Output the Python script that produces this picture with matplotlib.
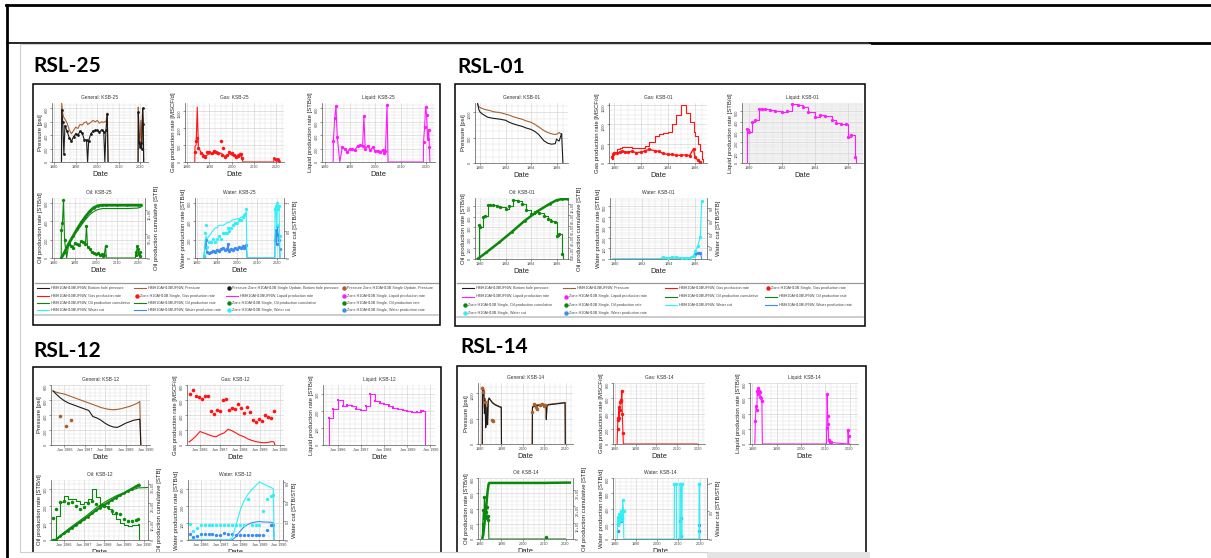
import numpy as np
import matplotlib
matplotlib.use("Agg")
import matplotlib.pyplot as plt
from matplotlib.lines import Line2D
from matplotlib.patches import Rectangle
from matplotlib.ticker import AutoMinorLocator

plt.rcParams['font.family'] = ['Liberation Sans', 'DejaVu Sans']

nan = np.nan

# ---------------- KSB-25 ----------------
k25_t = [1983.4, 1983.5, 1984, 1984.5, 1985, 1986, 1987, 1988, 1989, 1990, 1991, 1992, 1993, 1994,
         1995, 1995.5, 1996, 1997, 1998, 1999, 2000, 2001, 2002, 2003, 2003.5, 2004, 2004.6, 2005]
k25_pres = [0, 880, 720, 660, 640, 580, 480, 420, 470, 520, 500, 560, 550, 590,
            600, 560, 570, 590, 620, 600, 620, 580, 600, 590, 600, 600, 730, 0]
k25_bhp = [0, 780, 600, 120, 540, 460, 360, 310, 380, 420, 400, 460, 430, 330,
           330, 0, 320, 420, 460, 470, 470, 450, 480, 450, 0, 470, 720, 0]
k25_gas = [0, 450, 500, 1600, 450, 300, 230, 180, 200, 250, 220, 260, 250, 210,
           260, 250, 200, 170, 190, 250, 200, 170, 160, 220, 150, 200, 130, 0]
k25_gas_obs = [nan, 300, 600, 700, 400, 250, 180, 150, 280, 300, 250, 320, 280, 250,
               600, 200, 420, 150, 200, 300, 250, 200, 150, 180, 230, 240, 130, nan]
k25_liq = [0, 320, 650, 830, 380, 0, 220, 190, 150, 200, 190, 180, 240, 250,
           240, 690, 200, 240, 180, 220, 160, 170, 150, 180, 140, 170, 850, 0]
k25_oil = [0, 300, 380, 630, 200, 0, 150, 130, 110, 160, 150, 140, 180, 170,
           150, 350, 120, 100, 60, 50, 40, 50, 30, 40, 20, 30, 130, 0]
k25_wc = [0, 0.05, 0.45, 0.6, 0.2, 0.3, 0.3, 0.35, 0.3, 0.35, 0.4, 0.35, 0.45, 0.45,
          0.45, 0.55, 0.5, 0.55, 0.6, 0.65, 0.65, 0.7, 0.7, 0.75, 0.78, 0.8, 0.9, 0]
k25_wc_sim = [0, 0, 0.3, 0.4, 0.35, 0.4, 0.45, 0.5, 0.55, 0.55, 0.6, 0.6, 0.6, 0.62,
              0.65, 0.65, 0.65, 0.68, 0.7, 0.7, 0.72, 0.72, 0.75, 0.75, 0.78, 0.8, 0.85, 0]
k25_wat = [0, 20, 120, 200, 60, 50, 60, 80, 70, 90, 80, 100, 110, 90,
           100, 150, 80, 100, 90, 110, 100, 120, 110, 130, 110, 120, 140, 0]

k25_t2 = [2018.9, 2019.0, 2019.4, 2019.8, 2020.2, 2020.6, 2021.0, 2021.3, 2021.5]
k25_pres2 = [0, 820, 420, 300, 620, 260, 780, 640, 0]
k25_bhp2 = [0, 740, 300, 220, 280, 200, 800, 560, 0]
k25_gas2 = [0, 120, 80, 60, 100, 50, 80, 40, 0]
k25_liq2 = [0, 300, 520, 820, 700, 350, 480, 220, 0]
k25_oil2 = [0, 30, 60, 130, 100, 40, 60, 20, 0]
k25_wc2 = [0, 0.9, 0.95, 0.6, 1.0, 0.9, 0.95, 0.4, 0]
k25_wat2 = [0, 200, 300, 150, 350, 250, 200, 100, 0]

k25_cum_t = [1983.5, 1985, 1987, 1989, 1991, 1993, 1995, 1997, 1999, 2001, 2003, 2005,
             2010, 2015, 2020, 2021.5]
k25_cum_obs = [0, 0.12e6, 0.3e6, 0.45e6, 0.6e6, 0.74e6, 0.86e6, 0.97e6, 1.05e6, 1.09e6,
               1.1e6, 1.1e6, 1.1e6, 1.1e6, 1.1e6, 1.1e6]
k25_cum_sim = [0, 0.13e6, 0.3e6, 0.43e6, 0.56e6, 0.68e6, 0.8e6, 0.9e6, 0.97e6, 1.01e6,
               1.03e6, 1.03e6, 1.03e6, 1.03e6, 1.04e6, 1.06e6]

# ---------------- KSB-01 ----------------
k01_t = [1979.8, 1979.9, 1980.0, 1980.2, 1980.4, 1980.6, 1980.8, 1981.0, 1981.3, 1981.6,
         1982.0, 1982.3, 1982.6, 1983.0, 1983.3, 1983.6, 1984.0, 1984.3, 1984.6, 1985.0,
         1985.3, 1985.6, 1985.9, 1986.0, 1986.2, 1986.4, 1986.5, 1986.6]
k01_pres = [1150, 1110, 1090, 1070, 1050, 1040, 1030, 1010, 1000, 990,
            960, 940, 910, 880, 860, 830, 800, 760, 710, 640,
            600, 575, 560, 565, 600, 560, nan, nan]
k01_bhp = [1180, 1050, 1000, 960, 930, 900, 890, 880, 870, 860,
           840, 800, 770, 740, 720, 690, 660, 620, 560, 440,
           390, 370, 380, 470, 430, 580, 0, nan]
k01_gas = [100, 200, 280, 350, 400, 420, 420, 410, 400, 390,
           380, 450, 550, 700, 760, 780, 800, 1000, 1250, 1500,
           1300, 1050, 800, 700, 500, 300, 100, 0]
k01_gas_obs = [150, 220, 260, 250, 280, 300, 290, 280, 300, 270,
               280, 320, 350, 320, 300, 250, 220, 220, 200, 200,
               210, 190, 370, 150, 80, 20, nan, nan]
k01_liq = [0, 330, 300, 400, 420, 520, 520, 520, 510, 500,
           490, 500, 570, 560, 540, 490, 440, 460, 450, 420,
           390, 380, 380, 250, 270, 60, 0, 0]
k01_oil = [0, 320, 300, 400, 410, 510, 510, 510, 500, 490,
           480, 500, 560, 550, 520, 470, 430, 450, 440, 410,
           380, 360, 350, 220, 240, 50, 0, 0]
k01_wc = [0, 0, 0, 0, 0, 0, 0, 0, 0, 0,
          0, 0, 0, 0, 0, 0.03, 0.02, 0.03, 0.03, 0.02,
          0.02, 0.02, 0.05, 0.12, 0.2, 0.35, 0.9, nan]
k01_wat = [0, 0, 0, 0, 0, 0, 0, 0, 0, 0,
           0, 0, 0, 0, 0, 0, 0, 0, 0, 0,
           0, 0, 30, 50, 60, 60, 0, nan]
k01_cum_t = [1979.8, 1980.5, 1981.5, 1982.5, 1983.5, 1984.5, 1985.5, 1986.0, 1986.4, 1986.9]
k01_cum = [0, 0.12e6, 0.3e6, 0.49e6, 0.69e6, 0.86e6, 1.0e6, 1.06e6, 1.08e6, 1.08e6]

# ---------------- KSB-12 ----------------
k12_t = [1985.45, 1985.6, 1985.8, 1986.0, 1986.2, 1986.4, 1986.6, 1986.8, 1987.0, 1987.2,
         1987.4, 1987.6, 1987.8, 1988.0, 1988.2, 1988.4, 1988.6, 1988.8, 1989.0, 1989.2,
         1989.4, 1989.6, 1989.7, 1989.75]
k12_pres = [720, 705, 690, 680, 660, 640, 620, 600, 580, 560,
            540, 520, 500, 485, 475, 470, 475, 485, 500, 515,
            535, 560, 580, 0]
k12_bhp = [720, 680, 630, 590, 560, 540, 520, 500, 480, 460,
           380, 360, 330, 290, 260, 240, 235, 260, 290, 310,
           330, 340, 345, 0]
k12_pdot_t = [1985.8, 1986.1, 1986.35]
k12_pdot = [390, 260, 330]
k12_gas = [40, 70, 120, 180, 160, 140, 120, 110, 140, 160,
           210, 190, 160, 130, 110, 80, 60, 45, 35, 30,
           35, 45, 40, 0]
k12_gobs_t = [1985.5, 1985.65, 1985.8, 1985.95, 1986.1, 1986.25, 1986.4, 1986.55, 1986.7, 1986.85,
              1987.0, 1987.15, 1987.3, 1987.45, 1987.6, 1987.75, 1987.9, 1988.05, 1988.2, 1988.35,
              1988.5, 1988.65, 1988.8, 1988.95, 1989.1, 1989.25, 1989.4, 1989.55, 1989.7]
k12_gobs = [680, 740, 650, 640, 620, 650, 660, 450, 420, 470,
            450, 600, 610, 470, 490, 480, 550, 490, 430, 510,
            440, 330, 310, 350, 320, 400, 380, 360, 450]
k12_liq = [0, 160, 210, 260, 230, 235, 230, 210, 205, 225,
           300, 255, 245, 240, 225, 215, 210, 205, 200, 195,
           195, 200, 200, 0]
k12_oil_sim = [0, 140, 220, 255, 240, 240, 230, 210, 220, 240,
               300, 250, 210, 200, 180, 150, 120, 100, 85, 80,
               85, 90, 95, 0]
k12_oil_obs = [130, 180, 220, 230, 215, 220, 200, 180, 190, 215,
               230, 210, 200, 200, 195, 170, 160, 150, 120, 110,
               110, 115, 120, nan]
k12_cum_obs = [0, 0.01e5, 0.2e5, 0.35e5, 0.5e5, 0.65e5, 0.8e5, 0.95e5, 1.1e5, 1.25e5,
               1.42e5, 1.58e5, 1.72e5, 1.86e5, 2.0e5, 2.13e5, 2.26e5, 2.38e5, 2.5e5, 2.62e5,
               2.74e5, 2.86e5, 2.92e5, 2.95e5]
k12_cum_sim = [0, 0.02e5, 0.22e5, 0.4e5, 0.57e5, 0.73e5, 0.89e5, 1.04e5, 1.2e5, 1.36e5,
               1.54e5, 1.7e5, 1.85e5, 1.99e5, 2.12e5, 2.24e5, 2.35e5, 2.44e5, 2.52e5, 2.6e5,
               2.67e5, 2.74e5, 2.78e5, 2.78e5]
k12_wc_sim = [0, 0, 0, 0, 0, 0, 0, 0, 0, 0,
              0, 0.02, 0.15, 0.3, 0.4, 0.47, 0.52, 0.56, 0.6, 0.58,
              0.56, 0.54, 0.53, 0]
k12_wc_obs = [0.17, 0.09, 0.12, 0.15, 0.15, 0.16, 0.15, 0.15, 0.16, 0.16,
              0.15, 0.16, 0.16, 0.16, 0.15, 0.42, 0.16, 0.16, 0.16, 0.3,
              0.42, 0.45, 0.46, nan]
k12_wat_obs = [35, 20, 25, 35, 35, 35, 35, 30, 30, 40,
               35, 35, 30, 30, 30, 30, 30, 30, 30, 30,
               60, 85, 90, nan]
k12_wat_sim = [0, 0, 0, 0, 0, 0, 0, 0, 0, 0,
               0, 0, 20, 50, 75, 90, 100, 105, 108, 105,
               105, 103, 100, 0]

# ---------------- KSB-14 ----------------
k14_t = [1981.0, 1981.1, 1981.4, 1981.7, 1982.0, 1982.3, 1982.6, 1982.9, 1983.2, 1983.5,
         1983.8, 1984.2, 1985, 1986, 1987, 1988, 1989, 1989.9, 1990.0]
k14_bhp = [0, 1100, 950, 1050, 600, 850, 320, 400, 720, 380,
           850, 900, 850, 800, 770, 750, 730, 720, 0]
k14_pres = [0, 1120, 1000, 1080, 700, 900, 450, 500, 780, 450,
            870, 910, 860, 810, 780, 760, 740, 730, 0]
k14_t2 = [2004.4, 2004.5, 2006, 2008, 2010, 2010.9, 2011.0, 2011.3, 2012, 2014,
          2016, 2018, 2019.8, 2019.9]
k14_bhp2 = [0, 720, 750, 760, 770, 760, 480, 740, 770, 780, 790, 800, 810, 0]
k14_pres2 = [0, 740, 770, 780, 780, 770, 520, 760, 780, 790, 800, 810, 820, 0]
k14_pdot_t = [1981.1, 1981.4, 1982.5, 1985.6, 1986.0, 2004.4, 2005.0, 2006.0, 2006.8,
              2008.0, 2009.0, 2010.0, 2010.5]
k14_pdot = [1100, 1030, 820, 470, 450, 620, 780, 720, 690, 760, 790, 750, 760]
k14_gas_t = [1981.0, 1981.2, 1981.4, 1981.6, 1981.8, 1982.0, 1982.2, 1982.5, 1982.7, 1983.0,
             1983.3, 1983.5, 1983.8, 1984.0, 2020.0]
k14_gas = [0, 200, 340, 320, 480, 340, 440, 550, 560, 580, 700, 390, 150, 0, 0]
k14_liq_t = [1981.0, 1981.2, 1981.5, 1981.8, 1982.0, 1982.2, 1982.5, 1982.8, 1983.0, 1983.3,
             1983.6, 1983.9, 1984.1, 1984.2, 2010.5, 2010.6, 2010.8, 2011.0, 2011.2, 2011.4,
             2012.0, 2012.2, 2019.3, 2019.4, 2019.6, 2019.7, 2020.0]
k14_liq = [0, 300, 500, 440, 700, 650, 740, 700, 680, 620,
           600, 560, 0, 0, 0, 210, 650, 370, 260, 50,
           0, 20, 0, 190, 100, 0, 0]
k14_oil_t = [1981.0, 1981.2, 1981.5, 1981.8, 1982.0, 1982.2, 1982.5, 1982.8, 1983.0, 1983.3,
             1983.6, 1983.9, 1984.1, 2010.8, 2011.0, 2011.2, 2020.0]
k14_oil = [0, 200, 380, 280, 550, 300, 450, 350, 420, 280, 300, 250, 0, 0, 20, 0, 0]
k14_cum_t = [1981.0, 1981.5, 1982.0, 1982.5, 1983.0, 1983.5, 1984.0, 1984.3, 2000, 2010, 2020, 2022]
k14_cum = [0, 0.3e5, 0.9e5, 1.5e5, 2.2e5, 2.9e5, 3.35e5, 3.4e5, 3.4e5, 3.4e5, 3.42e5, 3.42e5]
k14_wc_t = [1981.0, 1981.2, 1981.5, 1981.8, 1982.0, 1982.3, 1982.6, 1983.0, 1983.3, 1983.6,
            1984.0, 1984.1, 2008.0, 2008.1, 2009.0, 2009.1, 2010.6, 2010.7, 2011.2, 2011.3,
            2011.6, 2011.7, 2019.7, 2019.8, 2019.9, 2020.0]
k14_wc = [0, 0.4, 0.25, 0.45, 0.3, 0.45, 0.35, 0.5, 0.4, 0.7,
          0.5, 0, 0, 1.0, 1.0, 0, 0, 1.0, 1.0, 0,
          1.0, 0, 0, 1.0, 1.0, 0]
k14_wat_t = [1981.3, 1981.6, 1982.0, 1982.4, 1982.8, 1983.2, 2010.8, 2011.0, 2011.3, 2019.8, 2019.9]
k14_wat = [200, 110, 230, 260, 240, 280, 230, 270, 40, 190, 100]

# ---------------- legend texts ----------------
leg25_kinds = ['line', 'line', 'dot', 'dot', 'line', 'dot', 'line', 'dot',
               'line', 'line', 'dot', 'dot', 'line', 'line', 'dot', 'dot']
leg25_keys = ['blk', 'brn', 'blk', 'brn', 'red', 'red', 'mag', 'mag',
              'grn', 'grn', 'grn', 'grn', 'cyn', 'blu', 'cyn', 'blu']
leg25_labels = ['HMH10AH10BUFNW, Bottom hole pressure', 'HMH10AH10BUFNW, Pressure',
                'Pressure Zone H10AH10B Single Update, Bottom hole pressure',
                'Pressure Zone H10AH10B Single Update, Pressure',
                'HMH10AH10BUFNW, Gas production rate', 'Zone H10AH10B Single, Gas production rate',
                'HMH10AH10BUFNW, Liquid production rate', 'Zone H10AH10B Single, Liquid production rate',
                'HMH10AH10BUFNW, Oil production cumulative', 'HMH10AH10BUFNW, Oil production rate',
                'Zone H10AH10B Single, Oil production cumulative', 'Zone H10AH10B Single, Oil production rate',
                'HMH10AH10BUFNW, Water cut', 'HMH10AH10BUFNW, Water production rate',
                'Zone H10AH10B Single, Water cut', 'Zone H10AH10B Single, Water production rate']
leg01_kinds = ['line', 'line', 'line', 'dot', 'line', 'dot', 'line', 'line',
               'dot', 'dot', 'line', 'line', 'dot', 'dot']
leg01_keys = ['blk', 'brn', 'red', 'red', 'mag', 'mag', 'grn', 'grn',
              'grn', 'grn', 'cyn', 'blu', 'cyn', 'blu']
leg01_labels = ['HMH10AH10BUFNW, Bottom hole pressure', 'HMH10AH10BUFNW, Pressure',
                'HMH10AH10BUFNW, Gas production rate', 'Zone H10AH10B Single, Gas production rate',
                'HMH10AH10BUFNW, Liquid production rate', 'Zone H10AH10B Single, Liquid production rate',
                'HMH10AH10BUFNW, Oil production cumulative', 'HMH10AH10BUFNW, Oil production rate',
                'Zone H10AH10B Single, Oil production cumulative', 'Zone H10AH10B Single, Oil production rate',
                'HMH10AH10BUFNW, Water cut', 'HMH10AH10BUFNW, Water production rate',
                'Zone H10AH10B Single, Water cut', 'Zone H10AH10B Single, Water production rate']

COL = {'blk': '#1c1c1c', 'brn': '#a8612f', 'red': '#ff1414', 'mag': '#ff1aff',
       'grn': '#0b870b', 'cyn': '#2ff0f5', 'blu': '#3a8cf2'}

W, H = 1211, 558
fig = plt.figure(figsize=(W / 100, H / 100), dpi=100)
fig.patch.set_facecolor('white')


def fx(x):
    return x / W


def fy(y):
    return 1 - y / H


def add_ax(box):
    x0, y0, x1, y1 = box
    return fig.add_axes([fx(x0), fy(y1), (x1 - x0) / W, (y1 - y0) / H])


def fline(xs, ys, lw, color, z=5):
    fig.add_artist(Line2D([fx(v) for v in xs], [fy(v) for v in ys],
                          transform=fig.transFigure, lw=lw, color=color, zorder=z))


def pos(a):
    a = np.asarray(a, dtype=float)
    return np.where(a > 0, a, nan)


def style(ax, title, ylabel, xlim, xticks, xlabels, ylim, yticks):
    ax.set_xlim(*xlim)
    ax.set_ylim(*ylim)
    ax.set_xticks(xticks)
    ax.set_xticklabels(xlabels)
    ax.set_yticks(yticks)
    ax.xaxis.set_minor_locator(AutoMinorLocator(4))
    ax.yaxis.set_minor_locator(AutoMinorLocator(4))
    ax.grid(True, which='major', color='#d2d2d2', lw=0.45)
    ax.grid(True, which='minor', color='#e2e2e2', lw=0.35)
    ax.set_axisbelow(True)
    ax.spines['top'].set_visible(False)
    ax.spines['right'].set_visible(False)
    for s in ('left', 'bottom'):
        ax.spines[s].set_color('#555555')
        ax.spines[s].set_linewidth(0.5)
    ax.tick_params(which='major', labelsize=2.7, length=1.3, width=0.4, pad=0.8, colors='#444444')
    ax.tick_params(which='minor', length=0)
    ax.tick_params(axis='y', labelrotation=90)
    ax.set_title(title, fontsize=3.5, pad=3, color='#333333')
    ax.set_ylabel(ylabel, fontsize=4.3, labelpad=1.5, color='#222222')
    ax.set_xlabel('Date', fontsize=5.4, labelpad=1.2, color='#222222')


def twin(ax, ylim, ticks, labels, ylabel):
    a2 = ax.twinx()
    a2.set_ylim(*ylim)
    a2.set_yticks(ticks)
    a2.set_yticklabels(labels)
    for s in ('top', 'left', 'bottom'):
        a2.spines[s].set_visible(False)
    a2.spines['right'].set_color('#555555')
    a2.spines['right'].set_linewidth(0.5)
    a2.tick_params(axis='y', labelsize=2.7, length=1.3, width=0.4, pad=0.8,
                   colors='#444444', labelrotation=90)
    a2.set_ylabel(ylabel, fontsize=4.3, labelpad=1.5, color='#222222')
    return a2


LW = 0.8
MS = 2.0

# ---------------- document frame ----------------
fline([6, 1211], [5, 5], 2.0, 'black')
fline([7, 7], [5, 558], 2.0, 'black')
fline([7, 870], [43, 43], 1.2, 'black')
fline([870, 1211], [43, 43], 2.0, 'black')
fline([20, 20], [44, 552], 0.8, '#d0d0d0')
fline([20, 870], [44, 44], 0.8, '#d0d0d0')

# panel headings
fig.text(fx(33), fy(72), 'RSL-25', fontsize=15, weight='bold', family='Lato', va='baseline')
fig.text(fx(457), fy(73), 'RSL-01', fontsize=15, weight='bold', family='Lato', va='baseline')
fig.text(fx(33), fy(357), 'RSL-12', fontsize=15, weight='bold', family='Lato', va='baseline')
fig.text(fx(460), fy(353), 'RSL-14', fontsize=15, weight='bold', family='Lato', va='baseline')

# panel boxes
for (x0, y0, x1, y1) in [(33, 84, 440, 325), (455, 84, 865, 326),
                         (33, 367, 441, 575), (457, 366, 866, 575)]:
    fig.add_artist(Rectangle((fx(x0), fy(y1)), (x1 - x0) / W, (y1 - y0) / H,
                             transform=fig.transFigure, fill=False, ec='black', lw=1.1, zorder=6))

YR_TICKS = [1980, 1990, 2000, 2010, 2020]
YR_LABELS = ['1980', '1990', '2000', '2010', '2020']
XL25 = (1979, 2023.5)

# ================= RSL-25 =================
ax = add_ax((52, 103, 148, 162))
style(ax, 'General: KSB-25', 'Pressure [psi]', XL25, YR_TICKS, YR_LABELS, (0, 880), [0, 200, 400, 600, 800])
ax.plot(k25_t, k25_pres, color=COL['brn'], lw=LW)
ax.plot(k25_t2, k25_pres2, color=COL['brn'], lw=LW)
ax.plot(k25_t, k25_bhp, color=COL['blk'], lw=LW)
ax.plot(k25_t2, k25_bhp2, color=COL['blk'], lw=LW)
ax.plot(k25_t, pos(k25_bhp), 'o', color=COL['blk'], ms=MS, mew=0)
ax.plot(k25_t2, pos(k25_bhp2), 'o', color=COL['blk'], ms=MS, mew=0)

ax = add_ax((185, 103, 284, 162))
style(ax, 'Gas: KSB-25', 'Gas production rate [MSCF/d]', XL25, YR_TICKS, YR_LABELS, (0, 1720), [0, 500, 1000, 1500])
ax.plot(k25_t + k25_t2, k25_gas + k25_gas2, color=COL['red'], lw=LW)
ax.plot(k25_t, k25_gas_obs, 'o', color=COL['red'], ms=MS + 0.5, mew=0)
ax.plot(k25_t2, pos(k25_gas2), 'o', color=COL['red'], ms=MS, mew=0)

ax = add_ax((322, 103, 435, 162))
style(ax, 'Liquid: KSB-25', 'Liquid production rate [STB/d]', XL25, YR_TICKS, YR_LABELS, (0, 880), [0, 200, 400, 600, 800])
ax.plot(k25_t + k25_t2, k25_liq + k25_liq2, color=COL['mag'], lw=LW)
ax.plot(k25_t + k25_t2, pos(k25_liq + k25_liq2), 'o', color=COL['mag'], ms=MS + 0.4, mew=0)

ax = add_ax((52, 198, 145, 258))
style(ax, 'Oil: KSB-25', 'Oil production rate [STB/d]', XL25, YR_TICKS, YR_LABELS, (0, 650), [0, 200, 400, 600])
ax.plot(k25_t + k25_t2, k25_oil + k25_oil2, color=COL['grn'], lw=LW)
ax.plot(k25_t + k25_t2, pos(k25_oil + k25_oil2), 'o', color=COL['grn'], ms=MS + 0.4, mew=0)
a2 = twin(ax, (0, 1.25e6), [0, 5e5, 1e6], ['0', '5E+05', '1E+06'], 'Oil production cumulative [STB]')
a2.plot(k25_cum_t, k25_cum_obs, '-o', color=COL['grn'], lw=2.0, ms=MS, mew=0)
a2.plot(k25_cum_t, k25_cum_sim, color=COL['grn'], lw=LW)

ax = add_ax((195, 198, 284, 258))
style(ax, 'Water: KSB-25', 'Water production rate [STB/d]', XL25, YR_TICKS, YR_LABELS, (0, 650), [0, 200, 400, 600])
ax.plot(k25_t + k25_t2, k25_wat + k25_wat2, color=COL['blu'], lw=LW)
ax.plot(k25_t + k25_t2, pos(k25_wat + k25_wat2), 'o', color=COL['blu'], ms=MS + 0.4, mew=0)
a2 = twin(ax, (0, 1.1), [0, 0.5, 1], ['0', '0.5', '1'], 'Water cut [STB/STB]')
a2.plot(k25_t + k25_t2, k25_wc_sim + k25_wc2, color=COL['cyn'], lw=LW)
a2.plot(k25_t + k25_t2, pos(k25_wc + k25_wc2), 'o', color=COL['cyn'], ms=MS + 0.4, mew=0)

# ================= RSL-01 =================
XL01 = (1979.6, 1986.9)
T01 = [1980, 1982, 1984, 1986]
L01 = ['1980', '1982', '1984', '1986']

ax = add_ax((475, 103, 568, 163))
style(ax, 'General: KSB-01', 'Pressure [psi]', XL01, T01, L01, (0, 1180), [0, 500, 1000])
ax.plot(k01_t, k01_pres, color=COL['brn'], lw=LW)
ax.plot(k01_t, k01_bhp, color=COL['blk'], lw=LW)

ax = add_ax((609, 103, 707, 163))
style(ax, 'Gas: KSB-01', 'Gas production rate [MSCF/d]', XL01, T01, L01, (0, 1550), [0, 500, 1000, 1500])
ax.plot(k01_t, k01_gas, color=COL['red'], lw=LW, drawstyle='steps-post')
ax.plot(k01_t, k01_gas_obs, '-o', color=COL['red'], lw=1.0, ms=MS + 0.4, mew=0)

ax = add_ax((742, 103, 863, 163))
style(ax, 'Liquid: KSB-01', 'Liquid production rate [STB/d]', XL01, T01, L01, (0, 580), [0, 100, 200, 300, 400, 500])
ax.set_facecolor('#f3f3f3')
ax.plot(k01_t, k01_liq, color=COL['mag'], lw=LW, drawstyle='steps-post')
ax.plot(k01_t, pos(k01_liq), 'o', color=COL['mag'], ms=MS + 0.4, mew=0)

ax = add_ax((475, 198, 568, 259))
style(ax, 'Oil: KSB-01', 'Oil production rate [STB/d]', XL01, T01, L01, (0, 580), [0, 100, 200, 300, 400, 500])
ax.plot(k01_t, k01_oil, color=COL['grn'], lw=LW, drawstyle='steps-post')
ax.plot(k01_t, pos(k01_oil), 'o', color=COL['grn'], ms=MS + 0.4, mew=0)
a2 = twin(ax, (0, 1.1e6), [0, 2e5, 4e5, 6e5, 8e5, 1e6],
          ['0', '2E+05', '4E+05', '6E+05', '8E+05', '1E+06'], 'Oil production cumulative [STB]')
a2.plot(k01_cum_t, k01_cum, '-o', color=COL['grn'], lw=1.8, ms=MS, mew=0)

ax = add_ax((610, 198, 707, 259))
style(ax, 'Water: KSB-01', 'Water production rate [STB/d]', XL01, T01, L01, (0, 580), [0, 100, 200, 300, 400, 500])
ax.plot(k01_t, k01_wat, color=COL['blu'], lw=LW)
ax.plot(k01_t, pos(k01_wat), 'o', color=COL['blu'], ms=MS + 0.4, mew=0)
a2 = twin(ax, (0, 0.95), [0, 0.2, 0.4, 0.6, 0.8], ['0', '0.2', '0.4', '0.6', '0.8'], 'Water cut [STB/STB]')
a2.plot(k01_t, k01_wc, color=COL['cyn'], lw=LW)
a2.plot(k01_t, pos(k01_wc), 'o', color=COL['cyn'], ms=MS + 0.4, mew=0)

# ================= RSL-12 =================
XL12 = (1985.35, 1990.2)
T12 = [1986, 1987, 1988, 1989, 1990]
L12 = ['Jan 1986', 'Jan 1987', 'Jan 1988', 'Jan 1989', 'Jan 1990']

ax = add_ax((51, 385, 150, 445))
style(ax, 'General: KSB-12', 'Pressure [psi]', XL12, T12, L12, (0, 800), [0, 200, 400, 600, 800])
ax.plot(k12_t, k12_pres, color=COL['brn'], lw=LW)
ax.plot(k12_t, k12_bhp, color=COL['blk'], lw=LW)
ax.plot(k12_pdot_t, k12_pdot, 'o', color=COL['brn'], ms=MS + 0.6, mew=0)

ax = add_ax((187, 385, 284, 445))
style(ax, 'Gas: KSB-12', 'Gas production rate [MSCF/d]', XL12, T12, L12, (0, 800), [0, 200, 400, 600, 800])
ax.plot(k12_t, k12_gas, color=COL['red'], lw=LW)
ax.plot(k12_gobs_t, k12_gobs, 'o', color=COL['red'], ms=MS + 0.6, mew=0)

ax = add_ax((323, 385, 435, 445))
style(ax, 'Liquid: KSB-12', 'Liquid production rate [STB/d]', XL12, T12, L12, (0, 350), [0, 100, 200, 300])
ax.plot(k12_t, k12_liq, color=COL['mag'], lw=LW, drawstyle='steps-post')
ax.plot(k12_t, pos(k12_liq), 's', color=COL['mag'], ms=MS, mew=0)

ax = add_ax((51, 480, 148, 540))
style(ax, 'Oil: KSB-12', 'Oil production rate [STB/d]', XL12, T12, L12, (0, 350), [0, 100, 200, 300])
ax.plot(k12_t, k12_oil_sim, color=COL['grn'], lw=LW, drawstyle='steps-post')
ax.plot(k12_t, k12_oil_obs, 'o', color=COL['grn'], ms=MS + 0.5, mew=0)
a2 = twin(ax, (0, 3.2e5), [0, 1e5, 2e5, 3e5], ['0', '1E+05', '2E+05', '3E+05'], 'Oil production cumulative [STB]')
a2.plot(k12_t, k12_cum_obs, '-o', color=COL['grn'], lw=1.6, ms=MS, mew=0)
a2.plot(k12_t + [1990.2], k12_cum_sim + [2.8e5], color=COL['grn'], lw=LW)

ax = add_ax((188, 480, 283, 540))
style(ax, 'Water: KSB-12', 'Water production rate [STB/d]', XL12, T12, L12, (0, 350), [0, 100, 200, 300])
ax.plot(k12_t, k12_wat_sim, color=COL['blu'], lw=LW)
ax.plot(k12_t, k12_wat_obs, 'o', color=COL['blu'], ms=MS + 0.4, mew=0)
a2 = twin(ax, (0, 0.62), [0, 0.2, 0.4, 0.6], ['0', '0.2', '0.4', '0.6'], 'Water cut [STB/STB]')
a2.plot(k12_t, k12_wc_sim, color=COL['cyn'], lw=LW)
a2.plot(k12_t, k12_wc_obs, 'o', color=COL['cyn'], ms=MS + 0.4, mew=0)

# ================= RSL-14 =================
XL14 = (1979, 2023.5)

ax = add_ax((478, 383, 573, 444))
style(ax, 'General: KSB-14', 'Pressure [psi]', XL14, YR_TICKS, YR_LABELS, (0, 1200), [0, 500, 1000])
ax.plot(k14_t, k14_pres, color=COL['brn'], lw=LW)
ax.plot(k14_t2, k14_pres2, color=COL['brn'], lw=LW)
ax.plot(k14_t, k14_bhp, color=COL['blk'], lw=LW)
ax.plot(k14_t2, k14_bhp2, color=COL['blk'], lw=LW)
ax.plot(k14_pdot_t, k14_pdot, 'o', color=COL['brn'], ms=MS + 0.6, mew=0)

ax = add_ax((613, 383, 705, 444))
style(ax, 'Gas: KSB-14', 'Gas production rate [MSCF/d]', XL14, YR_TICKS, YR_LABELS, (0, 800), [0, 200, 400, 600, 800])
ax.plot(k14_gas_t, k14_gas, color=COL['red'], lw=LW)
ax.plot(k14_gas_t, pos(k14_gas), 'o', color=COL['red'], ms=MS + 0.5, mew=0)

ax = add_ax((750, 383, 858, 444))
style(ax, 'Liquid: KSB-14', 'Liquid production rate [STB/d]', XL14, YR_TICKS, YR_LABELS, (0, 800), [0, 200, 400, 600, 800])
ax.plot(k14_liq_t, k14_liq, color=COL['mag'], lw=LW)
ax.plot(k14_liq_t, pos(k14_liq), 'o', color=COL['mag'], ms=MS + 0.5, mew=0)

ax = add_ax((478, 478, 573, 539))
style(ax, 'Oil: KSB-14', 'Oil production rate [STB/d]', XL14, YR_TICKS, YR_LABELS, (0, 800), [0, 200, 400, 600, 800])
ax.plot(k14_oil_t, k14_oil, color=COL['grn'], lw=LW)
ax.plot(k14_oil_t, pos(k14_oil), 'o', color=COL['grn'], ms=MS + 0.5, mew=0)
a2 = twin(ax, (0, 3.7e5), [0, 1e5, 2e5, 3e5], ['0', '1E+05', '2E+05', '3E+05'], 'Oil production cumulative [STB]')
a2.plot(k14_cum_t, k14_cum, '-', color=COL['grn'], lw=1.8)

ax = add_ax((613, 478, 707, 539))
style(ax, 'Water: KSB-14', 'Water production rate [STB/d]', XL14, YR_TICKS, YR_LABELS, (0, 800), [0, 200, 400, 600, 800])
ax.plot(k14_wat_t, k14_wat, 'o', color=COL['blu'], ms=MS + 0.5, mew=0)
a2 = twin(ax, (0, 1.1), [0, 0.5, 1], ['0', '0.5', '1'], 'Water cut [STB/STB]')
a2.plot(k14_wc_t, k14_wc, color=COL['cyn'], lw=LW)
a2.plot(k14_wc_t, pos(k14_wc), 'o', color=COL['cyn'], ms=MS + 0.5, mew=0)


# ---------------- legends ----------------
def draw_legend(cols, rows, kinds, keys, labels, sep):
    x_left, x_right, y_top, y_bot = sep
    fline([x_left, x_right], [y_top, y_top], 0.9, '#9a9a9a')
    fline([x_left, x_right], [y_bot, y_bot], 1.2, '#c4c4c4')
    for i, (k, c, lab) in enumerate(zip(kinds, keys, labels)):
        x = cols[i % 4]
        y = rows[i // 4]
        if k == 'line':
            fline([x, x + 12], [y, y], 0.8, COL[c])
            tx = x + 14
        else:
            fig.add_artist(Line2D([fx(x + 2.5)], [fy(y)], transform=fig.transFigure, ls='none',
                                  marker='o', ms=3.2, mew=0, color=COL[c], zorder=5))
            tx = x + 6
        fig.text(fx(tx), fy(y), lab, fontsize=2.7, va='center', ha='left', color='#444444')


draw_legend([37, 134, 226, 341], [288, 295.5, 303, 310], leg25_kinds, leg25_keys, leg25_labels,
            (35, 438, 283, 315))
draw_legend([462, 563, 665, 765], [288, 296.5, 305, 313], leg01_kinds, leg01_keys, leg01_labels,
            (457, 863, 283, 317))

# page bottom edge
fig.add_artist(Rectangle((fx(9), 0), (707 - 9) / W, 6 / H, transform=fig.transFigure,
                         fc='white', ec='none', zorder=20))
fig.add_artist(Rectangle((fx(707), 0), (870 - 707) / W, 6 / H, transform=fig.transFigure,
                         fc='#e4e4e4', ec='none', zorder=20))
fline([20, 707], [552, 552], 0.8, '#cfcfcf', z=21)

fig.savefig('out.png', dpi=100)
